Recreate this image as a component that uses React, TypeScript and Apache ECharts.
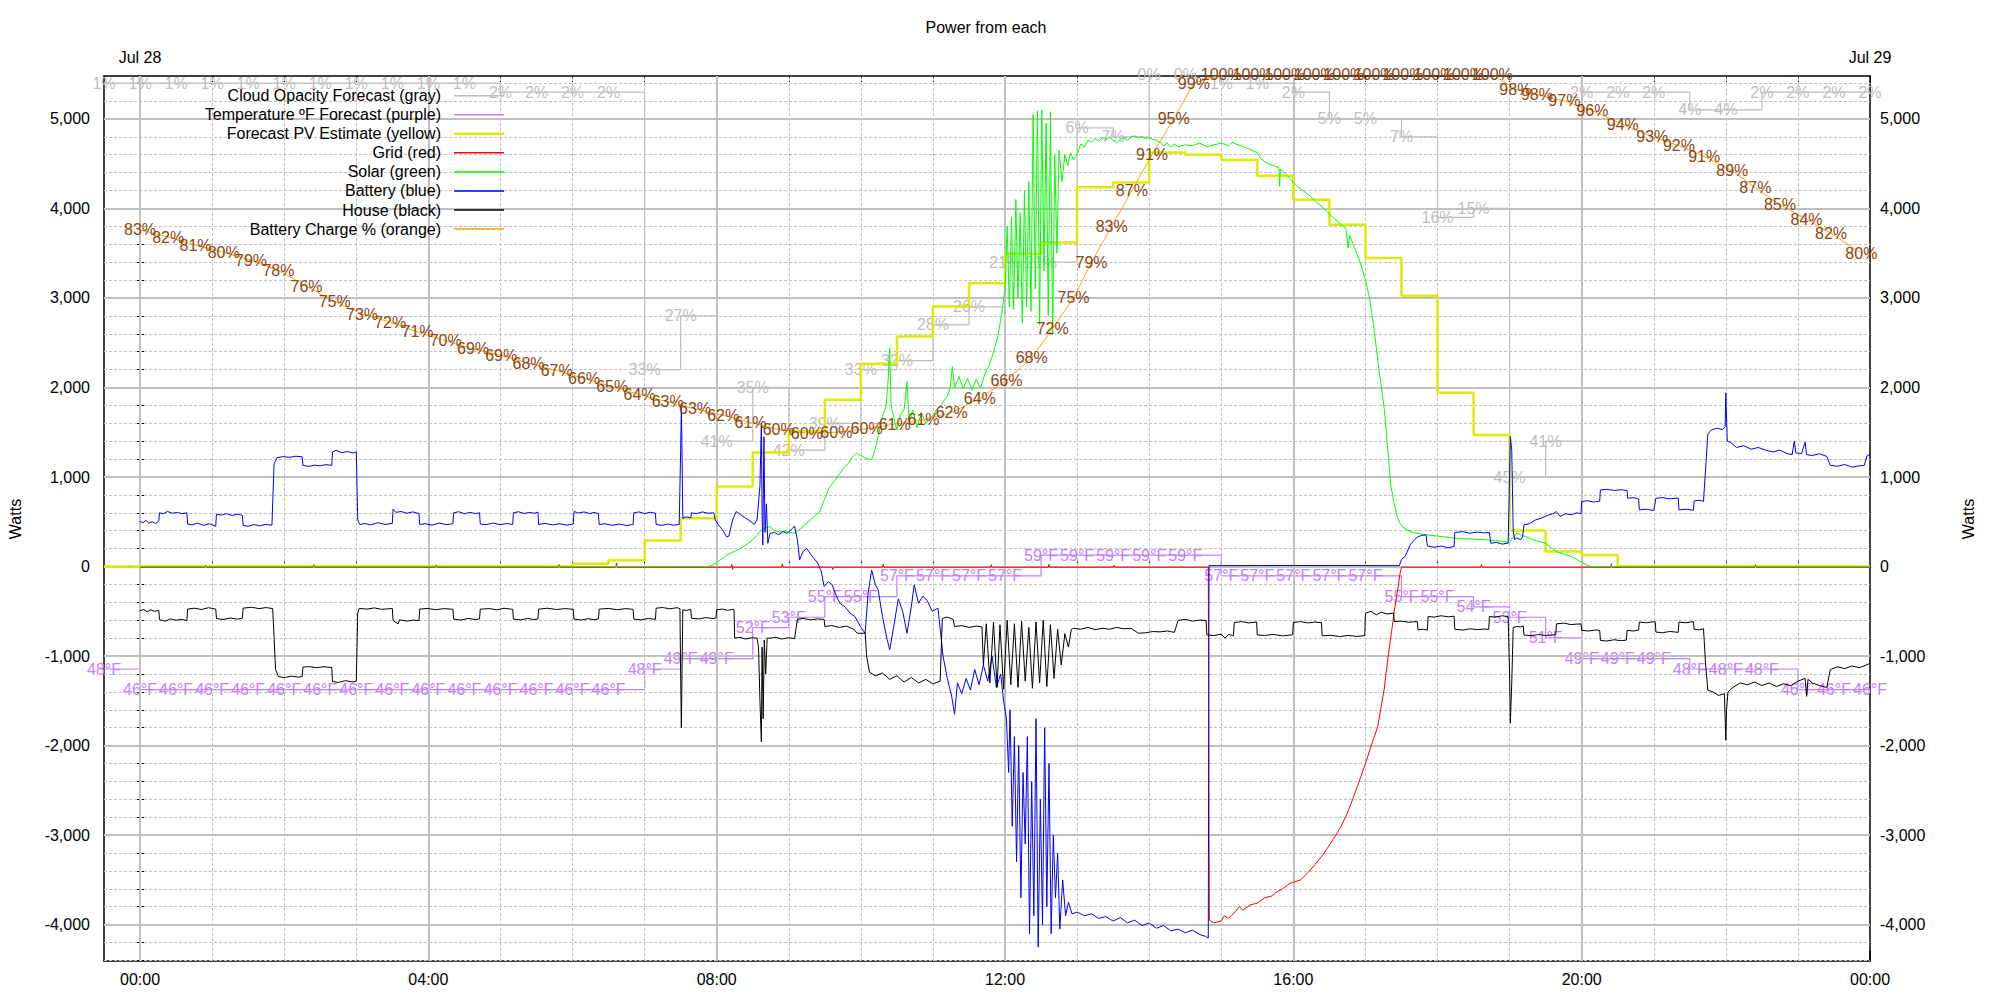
import React, { useEffect, useRef } from 'react';
import * as echarts from 'echarts';

const FONT = '"Liberation Sans", Arial, sans-serif';
const X_MIN = -0.5;
const X_MAX = 24;
const Y_MIN = -4406;
const Y_MAX = 5479;

// half-hourly forecast slots (hours from Jul 28 00:00)
const slotHours = [
  -0.5, 0, 0.5, 1, 1.5, 2, 2.5, 3, 3.5, 4, 4.5, 5, 5.5, 6, 6.5, 7, 7.5, 8, 8.5, 9, 9.5, 10, 10.5, 11, 11.5,
  12, 12.5, 13, 13.5, 14, 14.5, 15, 15.5, 16, 16.5, 17, 17.5, 18, 18.5, 19, 19.5, 20, 20.5, 21, 21.5, 22, 22.5, 23, 23.5, 24,
];
const cloudPct = [
  1, 1, 1, 1, 1, 1, 1, 1, 1, 1, 1, 2, 2, 2, 2, 33, 27, 41, 35, 42, 39, 33, 32, 28, 26,
  21, 21, 6, 7, 0, 0, 1, 1, 2, 5, 5, 7, 16, 15, 45, 41, 2, 2, 2, 4, 4, 2, 2, 2, 2,
];
const tempF = [
  48, 46, 46, 46, 46, 46, 46, 46, 46, 46, 46, 46, 46, 46, 46, 48, 49, 49, 52, 53, 55, 55, 57, 57, 57,
  57, 59, 59, 59, 59, 59, 57, 57, 57, 57, 57, 55, 55, 54, 53, 51, 49, 49, 49, 48, 48, 48, 46, 46, 46,
];
const forecastPV = [
  0, 0, 0, 0, 0, 0, 0, 0, 0, 0, 0, 0, 0, 30, 70, 290, 540, 893, 1274, 1510, 1862, 2265, 2570, 2905, 3165,
  3493, 3620, 4235, 4290, 4625, 4600, 4540, 4365, 4097, 3817, 3445, 3024, 1940, 1470, 402, 168, 130, 0, 0, 0, 0, 0, 0, 0, 0,
];

// battery state of charge (labelled points)
const chargeHours = [
  0.0, 0.39, 0.77, 1.16, 1.54, 1.92, 2.31, 2.7, 3.08, 3.47, 3.85, 4.24, 4.62, 5.01, 5.39, 5.78, 6.16, 6.55, 6.93, 7.32,
  7.7, 8.09, 8.47, 8.86, 9.25, 9.66, 10.08, 10.47, 10.87, 11.26, 11.65, 12.02, 12.37, 12.66, 12.95, 13.2, 13.48, 13.76,
  14.04, 14.34, 14.62, 15.0, 15.44, 15.88, 16.29, 16.7, 17.12, 17.52, 17.95, 18.36, 18.76, 19.08, 19.38, 19.76, 20.15,
  20.57, 20.98, 21.35, 21.7, 22.09, 22.41, 22.75, 23.12, 23.46, 23.88,
];
const chargePct = [
  82.6, 81.8, 80.9, 80.1, 79.2, 78.1, 76.3, 74.6, 73.2, 72.3, 71.2, 70.2, 69.3, 68.6, 67.7, 66.9, 66.0, 65.1, 64.2, 63.4,
  62.6, 61.9, 61.1, 60.3, 59.9, 60.0, 60.4, 60.9, 61.4, 62.2, 63.8, 65.8, 68.3, 71.6, 75.0, 79.0, 83.0, 87.0,
  91.0, 95.0, 99.0, 100, 100, 100, 100, 100, 100, 100, 100, 100, 100, 98.3, 97.7, 97.0, 95.9,
  94.4, 93.0, 92.0, 90.8, 89.2, 87.3, 85.4, 83.8, 82.2, 80.0,
];

const gridW = [
  [0, -8], [0.9, -8], [0.91, 15], [0.92, -8], [2.4, -8], [2.41, 20], [2.42, -8], [4.1, -8], [4.11, 18], [4.12, -8],
  [5.8, -8], [5.81, 22], [5.82, -8], [6.6, -8], [6.61, 40], [6.62, -8], [8.2, -8], [8.21, 25], [8.22, -30], [8.23, -8],
  [8.9, -8], [8.91, 30], [8.92, -8], [9.6, -8], [9.61, -35], [9.62, -8], [10.3, -8], [10.31, 25], [10.32, -8],
  [11.0, -8], [11.01, -30], [11.02, -8], [11.8, -8], [11.81, 20], [11.82, -8], [12.6, -8], [12.61, 25], [12.62, -8],
  [13.5, -8], [13.51, 15], [13.52, -8], [14.82, -8], [14.83, -2800], [14.835, -3950], [14.9, -3980], [15.0, -3960],
  [15.04, -3900], [15.1, -3930], [15.2, -3850], [15.25, -3800], [15.3, -3840], [15.4, -3780], [15.5, -3760], [15.6, -3700],
  [15.7, -3680], [15.76, -3640], [15.85, -3600], [15.95, -3540], [16.1, -3500], [16.2, -3420], [16.3, -3330], [16.4, -3230],
  [16.47, -3150], [16.55, -3050], [16.65, -2920], [16.73, -2790], [16.8, -2650], [16.9, -2430], [17.0, -2200], [17.08, -2000],
  [17.17, -1790], [17.26, -1370], [17.3, -1100], [17.35, -800], [17.4, -500], [17.44, -300], [17.48, -80], [17.5, -8],
  [18.6, -8], [18.61, 25], [18.62, -8], [20.4, -8], [20.41, 30], [20.42, -8], [22.4, -8], [22.41, 20], [22.42, -8], [24, -8],
];

const solarW = [
  [0, 0], [7.88, 0], [7.92, 8], [8.0, 45], [8.08, 90], [8.16, 138], [8.25, 170], [8.34, 205], [8.42, 250], [8.5, 298],
  [8.56, 350], [8.62, 410], [8.68, 430], [8.74, 447], [8.8, 400], [8.88, 385], [8.95, 400], [9.02, 380], [9.09, 372],
  [9.17, 430], [9.25, 484], [9.34, 550], [9.43, 615], [9.5, 760], [9.56, 880], [9.64, 960], [9.71, 1043], [9.77, 1110],
  [9.83, 1155], [9.88, 1220], [9.94, 1267], [10.0, 1240], [10.06, 1211], [10.15, 1192], [10.2, 1320], [10.24, 1453],
  [10.3, 1676], [10.35, 1788], [10.38, 2100], [10.4, 2437], [10.42, 1800], [10.46, 1650], [10.5, 1527], [10.55, 1700],
  [10.6, 1750], [10.64, 2065], [10.67, 1600], [10.72, 1750], [10.78, 1550], [10.84, 1720], [10.9, 1600], [10.99, 1676],
  [11.05, 1750], [11.1, 1788], [11.15, 1850], [11.2, 1900], [11.24, 2000], [11.27, 2233], [11.3, 2000], [11.36, 2121],
  [11.42, 1990], [11.48, 2100], [11.54, 1974], [11.6, 2090], [11.66, 1990], [11.72, 2150], [11.78, 2250], [11.82, 2344],
  [11.86, 2450], [11.9, 2568], [11.95, 2800], [12.0, 3100], [12.03, 3800], [12.06, 2900], [12.09, 3900], [12.12, 2870],
  [12.15, 4100], [12.18, 3000], [12.21, 3950], [12.24, 2720], [12.27, 4200], [12.3, 2900], [12.33, 4300], [12.36, 2850],
  [12.39, 5050], [12.42, 3100], [12.45, 5090], [12.48, 2700], [12.51, 5100], [12.54, 3300], [12.57, 4950], [12.6, 2800],
  [12.63, 5080], [12.66, 2590], [12.69, 4600], [12.72, 3500], [12.75, 4650], [12.79, 4300], [12.83, 4600], [12.87, 4480],
  [12.91, 4620], [12.95, 4540], [13.0, 4600], [13.05, 4720],
  [13.1, 4680], [13.15, 4760], [13.2, 4740], [13.25, 4780], [13.3, 4750], [13.35, 4790], [13.4, 4770], [13.45, 4800],
  [13.5, 4760], [13.55, 4730], [13.6, 4770], [13.65, 4790], [13.7, 4760], [13.75, 4800], [13.8, 4810], [13.85, 4790],
  [13.9, 4800], [13.95, 4780], [14.0, 4790], [14.05, 4770], [14.1, 4760], [14.15, 4740], [14.2, 4700], [14.25, 4730],
  [14.3, 4680], [14.35, 4720], [14.4, 4690], [14.5, 4710], [14.6, 4700], [14.7, 4730], [14.8, 4690], [14.9, 4710],
  [15.0, 4730], [15.1, 4700], [15.15, 4740], [15.2, 4720], [15.3, 4690], [15.4, 4660], [15.5, 4620], [15.55, 4552],
  [15.65, 4500], [15.75, 4470], [15.8, 4452], [15.81, 4246], [15.82, 4440], [15.9, 4380], [16.0, 4290], [16.1, 4220],
  [16.23, 4140], [16.35, 4050], [16.46, 3970], [16.55, 3900], [16.65, 3830], [16.73, 3770], [16.76, 3560], [16.78, 3700],
  [16.85, 3560], [16.93, 3390], [17.0, 3200], [17.06, 2985], [17.12, 2650], [17.18, 2250], [17.26, 1770], [17.3, 1400],
  [17.35, 915], [17.4, 700], [17.44, 560], [17.48, 484], [17.52, 440], [17.62, 391], [17.73, 370], [17.84, 354],
  [18.0, 340], [18.15, 325], [18.27, 317], [18.4, 310], [18.55, 305], [18.69, 298], [18.8, 290], [18.92, 280], [19.0, 268],
  [19.05, 330], [19.1, 372], [19.2, 340], [19.33, 298], [19.49, 261], [19.58, 210], [19.65, 168], [19.76, 135],
  [19.86, 112], [19.95, 70], [20.05, 25], [20.12, 0], [24, 0],
];

const batteryW = [
  [0.0, 505], [0.04, 490], [0.08, 515], [0.12, 485], [0.17, 500], [0.22, 480], [0.26, 510],
  [0.27, 600], [0.32, 590], [0.38, 615], [0.45, 595], [0.52, 605], [0.58, 590], [0.65, 600],
  [0.66, 475], [0.72, 465], [0.8, 485], [0.88, 460], [0.96, 478], [1.05, 450],
  [1.06, 585], [1.12, 575], [1.2, 590], [1.28, 570], [1.35, 585], [1.42, 572],
  [1.43, 460], [1.5, 450], [1.58, 468], [1.66, 455], [1.74, 470], [1.83, 462],
  [1.84, 700], [1.86, 1150], [1.9, 1215], [1.98, 1228], [2.08, 1220], [2.16, 1232], [2.25, 1225],
  [2.26, 1130], [2.34, 1118], [2.42, 1132], [2.5, 1125], [2.58, 1138], [2.66, 1130],
  [2.67, 1280], [2.72, 1298], [2.8, 1272], [2.88, 1285], [2.95, 1268], [3.0, 1280],
  [3.01, 900], [3.02, 520], [3.05, 470], [3.12, 480], [3.2, 465], [3.3, 490], [3.4, 470], [3.5, 482],
  [3.51, 640], [3.55, 605], [3.62, 615], [3.7, 595], [3.78, 610], [3.87, 592],
  [3.88, 470], [3.96, 478], [4.05, 462], [4.15, 485], [4.25, 468], [4.34, 478],
  [4.35, 600], [4.42, 612], [4.5, 590], [4.58, 605], [4.65, 592], [4.71, 600],
  [4.72, 475], [4.8, 468], [4.9, 485], [5.0, 466], [5.08, 480], [5.17, 470],
  [5.18, 600], [5.25, 612], [5.33, 592], [5.4, 605], [5.47, 595], [5.52, 608],
  [5.53, 470], [5.62, 482], [5.72, 465], [5.82, 478], [5.92, 462], [6.01, 476],
  [6.02, 615], [6.08, 598], [6.16, 610], [6.24, 592], [6.3, 604], [6.36, 590],
  [6.37, 468], [6.45, 478], [6.55, 460], [6.65, 474], [6.75, 458], [6.84, 470],
  [6.85, 600], [6.92, 610], [7.0, 592], [7.08, 606], [7.15, 595],
  [7.16, 470], [7.24, 460], [7.32, 475], [7.4, 462], [7.48, 470],
  [7.5, 1300], [7.51, 1810], [7.52, 1200], [7.53, 540], [7.58, 555], [7.64, 545],
  [7.65, 600], [7.72, 590], [7.8, 610], [7.88, 595], [7.96, 600],
  [7.98, 520], [8.02, 470], [8.08, 410], [8.14, 330], [8.17, 340], [8.22, 520], [8.27, 615], [8.33, 580], [8.4, 540],
  [8.46, 510], [8.52, 470], [8.56, 520], [8.6, 900], [8.62, 1600], [8.63, 600], [8.64, 240], [8.655, 1450], [8.67, 380],
  [8.69, 700], [8.71, 260], [8.74, 370], [8.8, 380], [8.86, 355], [8.92, 390], [8.98, 370], [9.04, 420], [9.08, 450],
  [9.12, 300], [9.15, 75], [9.2, 170], [9.25, 200], [9.32, 120], [9.4, 40], [9.45, -50], [9.49, -224], [9.55, -170],
  [9.6, -200], [9.66, -330], [9.71, -410], [9.78, -450], [9.85, -520], [9.92, -560], [10.0, -680], [10.06, -745],
  [10.1, -300], [10.15, -40], [10.2, -200], [10.24, -260], [10.3, -560], [10.36, -800], [10.4, -930], [10.45, -700],
  [10.52, -360], [10.58, -500], [10.64, -745], [10.7, -450], [10.74, -205], [10.8, -410], [10.86, -330], [10.92, -380],
  [10.99, -500], [11.07, -465], [11.1, -690], [11.14, -1000], [11.2, -1250], [11.26, -1450], [11.3, -1650], [11.34, -1300],
  [11.4, -1420], [11.46, -1250], [11.52, -1380], [11.58, -1150], [11.64, -1320], [11.7, -1100], [11.76, -1280],
  [11.82, -1000], [11.88, -1350], [11.94, -1200], [11.98, -1500], [12.02, -1700], [12.05, -2300], [12.07, -1600],
  [12.1, -2900], [12.13, -1900], [12.16, -3300], [12.19, -2000], [12.22, -3700], [12.25, -2300], [12.28, -3100],
  [12.31, -1900], [12.34, -4100], [12.37, -2400], [12.4, -3900], [12.43, -1700], [12.46, -4250], [12.49, -2600],
  [12.52, -4000], [12.55, -1800], [12.58, -3800], [12.61, -2200], [12.64, -4100], [12.67, -3000], [12.7, -3700],
  [12.73, -3200], [12.76, -4050], [12.8, -3500], [12.84, -3900], [12.88, -3750], [12.93, -3880], [13.0, -3860],
  [13.1, -3900], [13.2, -3880], [13.3, -3930], [13.4, -3910], [13.5, -3960], [13.6, -3920], [13.7, -3980], [13.8, -3950],
  [13.9, -4010], [14.0, -3980], [14.1, -4040], [14.2, -4010], [14.3, -4070], [14.4, -4050], [14.5, -4090], [14.6, -4060],
  [14.7, -4110], [14.78, -4130], [14.82, -4150], [14.83, 10], [16.0, 12], [17.47, 10], [17.5, 80], [17.55, 112],
  [17.62, 242], [17.68, 300], [17.73, 335], [17.8, 350], [17.84, 354], [17.86, 230], [17.95, 215], [18.05, 228],
  [18.15, 210], [18.23, 225], [18.24, 380], [18.35, 390], [18.45, 372], [18.55, 385], [18.65, 375], [18.72, 380],
  [18.74, 260], [18.82, 270], [18.9, 250], [18.98, 262], [19.0, 1000], [19.01, 1451], [19.03, 1300], [19.05, 400],
  [19.07, 300], [19.1, 320], [19.15, 300], [19.18, 330], [19.2, 465], [19.28, 480], [19.36, 520], [19.44, 540],
  [19.52, 570], [19.6, 590], [19.65, 614], [19.7, 560], [19.78, 590], [19.85, 577], [19.93, 600], [19.99, 590],
  [20.0, 726], [20.08, 735], [20.16, 720], [20.25, 730], [20.26, 856], [20.35, 862], [20.45, 850], [20.55, 858],
  [20.63, 848], [20.64, 763], [20.72, 770], [20.79, 755], [20.8, 632], [20.9, 640], [21.0, 625], [21.03, 763],
  [21.12, 770], [21.22, 756], [21.34, 765], [21.35, 632], [21.45, 640], [21.55, 628], [21.56, 733], [21.63, 740],
  [21.69, 728], [21.72, 1100], [21.75, 1480], [21.8, 1526], [21.88, 1545], [21.95, 1530], [21.99, 1560], [22.0, 1940],
  [22.02, 1400], [22.06, 1390], [22.15, 1330], [22.25, 1350], [22.35, 1310], [22.45, 1330], [22.55, 1300], [22.65, 1280],
  [22.75, 1300], [22.85, 1260], [22.92, 1250], [22.95, 1400], [22.97, 1270], [23.05, 1260], [23.1, 1390], [23.12, 1250],
  [23.2, 1240], [23.3, 1260], [23.4, 1230], [23.45, 1130], [23.55, 1120], [23.65, 1140], [23.75, 1110], [23.85, 1125],
  [23.92, 1130], [23.96, 1240], [24.0, 1250],
];

const houseW = [
  [0.0, -495], [0.05, -480], [0.1, -505], [0.15, -485], [0.2, -500], [0.26, -490],
  [0.27, -594], [0.35, -610], [0.42, -585], [0.5, -600], [0.58, -590], [0.65, -605],
  [0.66, -476], [0.75, -465], [0.85, -480], [0.95, -460], [1.05, -475],
  [1.06, -580], [1.15, -592], [1.25, -575], [1.35, -588], [1.42, -578],
  [1.43, -465], [1.55, -455], [1.65, -470], [1.75, -458], [1.84, -470],
  [1.86, -800], [1.88, -1150], [1.92, -1229], [2.0, -1240], [2.1, -1225], [2.2, -1235], [2.25, -1230],
  [2.26, -1124], [2.35, -1118], [2.45, -1130], [2.55, -1120], [2.66, -1128],
  [2.67, -1284], [2.75, -1295], [2.85, -1275], [2.95, -1290], [3.0, -1280],
  [3.01, -900], [3.02, -520], [3.04, -469], [3.15, -475], [3.25, -462], [3.35, -478], [3.5, -469],
  [3.51, -603], [3.58, -640], [3.6, -595], [3.7, -610], [3.8, -598], [3.87, -605],
  [3.88, -476], [3.98, -468], [4.1, -482], [4.22, -470], [4.34, -478],
  [4.35, -587], [4.45, -598], [4.55, -580], [4.65, -592], [4.71, -585],
  [4.72, -476], [4.85, -470], [4.95, -484], [5.05, -466], [5.17, -478],
  [5.18, -587], [5.28, -596], [5.38, -580], [5.46, -592], [5.52, -585],
  [5.53, -476], [5.65, -466], [5.78, -480], [5.9, -470], [6.01, -478],
  [6.02, -587], [6.12, -598], [6.22, -582], [6.3, -594], [6.36, -585],
  [6.37, -476], [6.5, -468], [6.62, -482], [6.74, -470], [6.84, -478],
  [6.85, -587], [6.95, -596], [7.05, -580], [7.15, -590],
  [7.16, -465], [7.25, -458], [7.35, -472], [7.45, -460], [7.49, -470],
  [7.5, -1200], [7.51, -1800], [7.52, -1100], [7.53, -483], [7.58, -490], [7.64, -478],
  [7.65, -578], [7.75, -585], [7.85, -570], [7.95, -582], [7.99, -575],
  [8.0, -483], [8.08, -475], [8.15, -490], [8.22, -478], [8.24, -483],
  [8.25, -801], [8.32, -790], [8.4, -810], [8.48, -795], [8.56, -800],
  [8.58, -900], [8.6, -1500], [8.62, -1960], [8.63, -900], [8.645, -1700], [8.66, -820], [8.68, -1200], [8.7, -800],
  [8.74, -800], [8.82, -790], [8.9, -810], [9.0, -795], [9.08, -805],
  [9.12, -589], [9.2, -580], [9.3, -595], [9.4, -585], [9.49, -590],
  [9.5, -670], [9.6, -660], [9.7, -680], [9.8, -665], [9.9, -700], [9.95, -745], [10.06, -745],
  [10.08, -1000], [10.12, -1180], [10.2, -1220], [10.3, -1190], [10.4, -1260], [10.5, -1220], [10.6, -1290],
  [10.7, -1240], [10.8, -1300], [10.9, -1260], [11.0, -1310], [11.1, -1280],
  [11.13, -580], [11.2, -565], [11.28, -590], [11.3, -670], [11.4, -660], [11.5, -680], [11.6, -665], [11.68, -675],
  [11.7, -1100], [11.74, -640], [11.79, -1300], [11.84, -620], [11.89, -1350], [11.93, -650], [11.98, -1370],
  [12.03, -600], [12.08, -1320], [12.13, -640], [12.18, -1350], [12.23, -610], [12.28, -1280], [12.33, -680],
  [12.38, -1360], [12.43, -620], [12.48, -1300], [12.53, -600], [12.58, -1340], [12.63, -650], [12.68, -1250],
  [12.73, -700], [12.78, -1100], [12.83, -750], [12.88, -900], [12.92, -700],
  [12.95, -690], [13.05, -700], [13.15, -680], [13.25, -705], [13.35, -690], [13.45, -700], [13.55, -680],
  [13.65, -695], [13.75, -690], [13.85, -745], [13.95, -740], [14.05, -726], [14.15, -730], [14.25, -720], [14.35, -735],
  [14.4, -602], [14.5, -590], [14.6, -610], [14.7, -598], [14.79, -602],
  [14.8, -764], [14.9, -770], [15.0, -755], [15.05, -800], [15.1, -760], [15.17, -770],
  [15.18, -626], [15.28, -615], [15.38, -630], [15.49, -620],
  [15.5, -764], [15.6, -770], [15.72, -758], [15.85, -775], [15.99, -762],
  [16.0, -626], [16.1, -615], [16.2, -630], [16.3, -620], [16.39, -628],
  [16.4, -775], [16.52, -768], [16.64, -782], [16.76, -770], [16.88, -780], [16.99, -772],
  [17.0, -521], [17.08, -500], [17.15, -540], [17.22, -510], [17.3, -530], [17.39, -520],
  [17.4, -615], [17.5, -610], [17.6, -622], [17.72, -615],
  [17.73, -708], [17.8, -700], [17.86, -710],
  [17.87, -558], [17.95, -565], [18.05, -550], [18.15, -562], [18.23, -555],
  [18.24, -700], [18.35, -710], [18.45, -695], [18.55, -705], [18.65, -698], [18.71, -702],
  [18.72, -558], [18.8, -565], [18.9, -550], [18.98, -560],
  [19.0, -1200], [19.01, -1750], [19.03, -1300], [19.05, -680], [19.1, -670], [19.15, -675], [19.19, -665],
  [19.2, -765], [19.3, -772], [19.4, -760], [19.5, -770], [19.64, -762],
  [19.65, -640], [19.75, -632], [19.85, -648], [19.99, -640],
  [20.0, -713], [20.1, -720], [20.2, -708], [20.25, -715],
  [20.26, -825], [20.35, -832], [20.45, -818], [20.55, -828], [20.62, -822],
  [20.63, -713], [20.72, -720], [20.79, -710],
  [20.8, -620], [20.9, -628], [21.02, -615],
  [21.03, -732], [21.12, -740], [21.22, -725], [21.34, -735],
  [21.35, -620], [21.45, -628], [21.55, -615],
  [21.56, -700], [21.63, -708], [21.69, -695],
  [21.72, -1100], [21.75, -1380], [21.82, -1400], [21.9, -1440], [21.98, -1420], [22.0, -1940], [22.01, -1600],
  [22.03, -1400], [22.1, -1350], [22.2, -1300], [22.3, -1320], [22.4, -1290], [22.5, -1330], [22.6, -1300],
  [22.7, -1340], [22.8, -1310], [22.9, -1330], [23.0, -1280], [23.1, -1250], [23.12, -1450], [23.14, -1260],
  [23.2, -1300], [23.3, -1330], [23.4, -1350], [23.45, -1150], [23.55, -1120], [23.65, -1140], [23.75, -1110],
  [23.85, -1130], [23.95, -1100], [24.0, -1080],
];

const majorXTicks = [0, 4, 8, 12, 16, 20, 24];
const minorXTicks = [1, 2, 3, 5, 6, 7, 9, 10, 11, 13, 14, 15, 17, 18, 19, 21, 22, 23];
const hourTicks = [0, 1, 2, 3, 4, 5, 6, 7, 8, 9, 10, 11, 12, 13, 14, 15, 16, 17, 18, 19, 20, 21, 22, 23, 24];
const majorYTicks = [-4000, -3000, -2000, -1000, 0, 1000, 2000, 3000, 4000, 5000];
const minorYTicks = [
  -4400, -4200, -3800, -3600, -3400, -3200, -2800, -2600, -2400, -2200, -1800, -1600, -1400, -1200,
  -800, -600, -400, -200, 200, 400, 600, 800, 1200, 1400, 1600, 1800, 2200, 2400, 2600, 2800,
  3200, 3400, 3600, 3800, 4200, 4400, 4600, 4800, 5200, 5400,
];

const legendItems = [
  { name: 'Cloud Opacity Forecast (gray)', color: '#bebebe', width: 1.5 },
  { name: 'Temperature ºF Forecast (purple)', color: '#c080ff', width: 1.5 },
  { name: 'Forecast PV Estimate (yellow)', color: '#dcec00', width: 2.5 },
  { name: 'Grid (red)', color: '#ff0000', width: 1.5 },
  { name: 'Solar (green)', color: '#00ff00', width: 1.5 },
  { name: 'Battery (blue)', color: '#0000ff', width: 1.5 },
  { name: 'House (black)', color: '#000000', width: 1.5 },
  { name: 'Battery Charge % (orange)', color: '#ffa500', width: 1.5 },
];

// mappings of the secondary quantities onto the watts axis (as plotted in the source)
const cloudToW = (p: number) => 5500 - 100 * p;
const tempToW = (t: number) => 127 + (t - 59) * 115.6;
const pctToW = (p: number) => 100 * p - 4500;

function labelSeries(xs: number[], ys: number[], texts: string[], color: string, z: number) {
  return {
    type: 'custom',
    coordinateSystem: 'cartesian2d',
    data: xs.map((x, i) => [x, ys[i]]),
    encode: { x: 0, y: 1 },
    clip: false,
    silent: true,
    z,
    renderItem: (params: any, api: any) => {
      const pt = api.coord([api.value(0), api.value(1)]);
      return {
        type: 'text',
        x: pt[0],
        y: pt[1],
        silent: true,
        style: {
          text: texts[params.dataIndex],
          fill: color,
          font: `16px ${FONT}`,
          textAlign: 'center',
          textVerticalAlign: 'middle',
        },
      };
    },
  };
}

function lineSeries(data: number[][], color: string, width: number, z: number, step?: string) {
  return {
    type: 'line',
    data,
    step: step || false,
    showSymbol: false,
    symbol: 'none',
    silent: true,
    z,
    lineStyle: { color, width },
    emphasis: { disabled: true },
  };
}

function buildOption() {
  const gridMarks: any[] = [];
  majorXTicks.filter((v) => v < 24).forEach((v) =>
    gridMarks.push({ xAxis: v, lineStyle: { color: '#c0c0c0', width: 2, type: 'solid' } })
  );
  minorXTicks.forEach((v) =>
    gridMarks.push({ xAxis: v, lineStyle: { color: '#c0c0c0', width: 1, type: [3, 2] } })
  );
  majorYTicks.forEach((v) =>
    gridMarks.push({ yAxis: v, lineStyle: { color: '#c0c0c0', width: 2, type: 'solid' } })
  );
  minorYTicks.forEach((v) =>
    gridMarks.push({ yAxis: v, lineStyle: { color: '#c0c0c0', width: 1, type: [3, 2] } })
  );

  const cloudW = cloudPct.map(cloudToW);
  const tempW = tempF.map(tempToW);
  const chargeW = chargePct.map(pctToW);

  const commonX = { type: 'value', min: X_MIN, max: X_MAX, splitLine: { show: false }, minorTick: { show: false } };
  const commonY = { type: 'value', min: Y_MIN, max: Y_MAX, splitLine: { show: false }, minorTick: { show: false } };
  const pad = (n: number) => (n < 10 ? '0' + n : '' + n);

  const legendGraphics: any[] = [
    {
      type: 'rect',
      z: 2,
      silent: true,
      shape: { x: 105, y: 87, width: 408, height: 152 },
      style: { fill: '#ffffff' },
    },
  ];
  legendItems.forEach((it, i) => {
    const y = 95.7 + i * 19.05;
    legendGraphics.push({
      type: 'text',
      x: 441,
      y,
      z: 20,
      silent: true,
      style: { text: it.name, fill: '#000', font: `16px ${FONT}`, textAlign: 'right', textVerticalAlign: 'middle' },
    });
    legendGraphics.push({
      type: 'line',
      z: 20,
      silent: true,
      shape: { x1: 454, y1: y, x2: 504, y2: y },
      style: { stroke: it.color, lineWidth: it.width },
    });
  });

  return {
    animation: false,
    backgroundColor: '#ffffff',
    textStyle: { fontFamily: FONT },
    grid: { left: 104, right: 130, top: 76, bottom: 39, containLabel: false },
    xAxis: [
      {
        ...commonX,
        position: 'bottom',
        axisLine: { show: true, onZero: false, lineStyle: { color: '#000', width: 1.5 } },
        axisTick: { show: true, inside: true, length: 10, customValues: majorXTicks, lineStyle: { color: '#000', width: 1.5 } },
        axisLabel: {
          show: true,
          customValues: majorXTicks,
          formatter: (v: number) => pad(Math.round(v) % 24) + ':00',
          color: '#000',
          fontSize: 16,
          margin: 10,
        },
      },
      {
        ...commonX,
        position: 'bottom',
        axisLine: { show: false },
        axisTick: { show: true, inside: true, length: 5, customValues: minorXTicks, lineStyle: { color: '#000', width: 1 } },
        axisLabel: { show: false },
      },
      {
        ...commonX,
        position: 'top',
        axisLine: { show: true, onZero: false, lineStyle: { color: '#000', width: 1.5 } },
        axisTick: { show: true, inside: true, length: 6, customValues: hourTicks, lineStyle: { color: '#000', width: 1 } },
        axisLabel: {
          show: true,
          customValues: [0, 24],
          formatter: (v: number) => (v < 12 ? 'Jul 28' : 'Jul 29'),
          color: '#000',
          fontSize: 16,
          margin: 11,
        },
      },
    ],
    yAxis: [
      {
        ...commonY,
        position: 'left',
        axisLine: { show: true, onZero: false, lineStyle: { color: '#000', width: 1.5 } },
        axisTick: { show: true, inside: true, length: 10, customValues: majorYTicks, lineStyle: { color: '#000', width: 1.5 } },
        axisLabel: {
          show: true,
          customValues: majorYTicks,
          formatter: (v: number) => v.toLocaleString('en-US'),
          color: '#000',
          fontSize: 16,
          margin: 14,
        },
      },
      {
        ...commonY,
        position: 'left',
        axisLine: { show: false },
        axisTick: { show: true, inside: true, length: 5, customValues: minorYTicks, lineStyle: { color: '#000', width: 1 } },
        axisLabel: { show: false },
      },
      {
        ...commonY,
        position: 'right',
        axisLine: { show: true, onZero: false, lineStyle: { color: '#000', width: 1.5 } },
        axisTick: { show: true, inside: true, length: 10, customValues: majorYTicks, lineStyle: { color: '#000', width: 1.5 } },
        axisLabel: {
          show: true,
          customValues: majorYTicks,
          formatter: (v: number) => v.toLocaleString('en-US'),
          color: '#000',
          fontSize: 16,
          margin: 10,
        },
      },
      {
        ...commonY,
        position: 'right',
        axisLine: { show: false },
        axisTick: { show: true, inside: true, length: 5, customValues: minorYTicks, lineStyle: { color: '#000', width: 1 } },
        axisLabel: { show: false },
      },
    ],
    graphic: {
      elements: [
        {
          type: 'text',
          x: 986,
          y: 27,
          silent: true,
          style: { text: 'Power from each', fill: '#000', font: `16px ${FONT}`, textAlign: 'center', textVerticalAlign: 'middle' },
        },
        {
          type: 'text',
          x: 15,
          y: 519,
          rotation: Math.PI / 2,
          silent: true,
          style: { text: 'Watts', fill: '#000', font: `16px ${FONT}`, textAlign: 'center', textVerticalAlign: 'middle' },
        },
        {
          type: 'text',
          x: 1968,
          y: 519,
          rotation: Math.PI / 2,
          silent: true,
          style: { text: 'Watts', fill: '#000', font: `16px ${FONT}`, textAlign: 'center', textVerticalAlign: 'middle' },
        },
        ...legendGraphics,
      ],
    },
    series: [
      {
        type: 'line',
        data: [[X_MIN, 0]],
        showSymbol: false,
        symbol: 'none',
        silent: true,
        z: 1,
        lineStyle: { width: 0, opacity: 0 },
        markLine: {
          silent: true,
          symbol: ['none', 'none'],
          label: { show: false },
          emphasis: { disabled: true },
          animation: false,
          data: gridMarks,
        },
      },
      lineSeries(slotHours.map((h, i) => [h, cloudW[i]]), '#bebebe', 1.2, 3, 'end'),
      labelSeries(slotHours, cloudW, cloudPct.map((p) => p + '%'), '#bebebe', 3),
      lineSeries(slotHours.map((h, i) => [h, tempW[i]]), '#c080ff', 1.2, 4, 'end'),
      labelSeries(slotHours, tempW, tempF.map((t) => t + '°F'), '#c080ff', 4),
      lineSeries(slotHours.map((h, i) => [h, forecastPV[i]]), '#dcec00', 2.5, 5, 'end'),
      lineSeries(gridW, '#ff0000', 1, 6),
      lineSeries(solarW, '#00ff00', 1, 7),
      lineSeries(batteryW, '#0000ff', 1, 8),
      lineSeries(houseW, '#000000', 1, 9),
      lineSeries(chargeHours.map((h, i) => [h, chargeW[i]]), '#ffa500', 1, 10),
      labelSeries(chargeHours, chargeW, chargePct.map((p) => Math.round(p) + '%'), '#8b4513', 11),
    ],
  };
}

export default function App() {
  const ref = useRef<HTMLDivElement>(null);
  useEffect(() => {
    if (!ref.current) return;
    const chart = echarts.init(ref.current, undefined, { renderer: 'svg' });
    chart.setOption(buildOption() as any);
    return () => chart.dispose();
  }, []);
  return (
    <div
      ref={ref}
      style={{ position: 'absolute', left: 0, top: 0, width: 2000, height: 1000, background: '#ffffff' }}
    />
  );
}
